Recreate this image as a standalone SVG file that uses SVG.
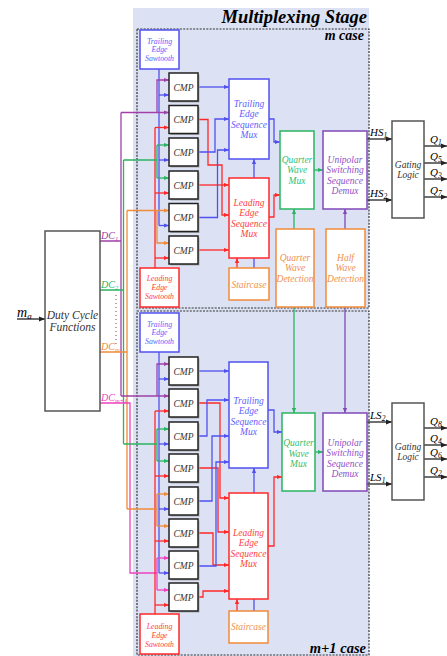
<svg xmlns="http://www.w3.org/2000/svg" width="447" height="656" viewBox="0 0 447 656">
<style>
.t{font-family:"Liberation Serif",serif;font-style:italic;text-anchor:middle}
.s{font-size:7.8px}
.m{font-size:9.5px}
.bb{fill:#fff;stroke:#5050f0;stroke-width:1.5}
.rb{fill:#fff;stroke:#ff2828;stroke-width:1.5}
.ob{fill:#fff;stroke:#f08a3a;stroke-width:1.5}
.gb{fill:#fff;stroke:#28b460;stroke-width:1.5}
.pb{fill:#fff;stroke:#8048b8;stroke-width:1.5}
.kb{fill:#fff;stroke:#555;stroke-width:1.5}
.cb{fill:#fff;stroke:#222;stroke-width:1.5}
.sh{fill:#aaa}
.bt{fill:#6060ff}.rt{fill:#ff4040}.ot{fill:#f09050}.gt{fill:#30c070}.pt{fill:#9050c8}.kt{fill:#333}
.w{fill:none;stroke-width:1.3}
.B{stroke:#5050f0}.R{stroke:#ff2828}.O{stroke:#f08a3a}.G{stroke:#28b460}.P{stroke:#8048b8}.D{stroke:#a040a8}.M{stroke:#f040c0}.K{stroke:#222}
.ab{marker-end:url(#aB)}.ar{marker-end:url(#aR)}.ag{marker-end:url(#aG)}.ap{marker-end:url(#aP)}.ad{marker-end:url(#aD)}.am{marker-end:url(#aM)}.ao{marker-end:url(#aO)}.ak{marker-end:url(#aK)}
.dash{fill:none;stroke:#333;stroke-width:1.2;stroke-dasharray:2 1.3}
.lab{font-family:"Liberation Serif",serif;font-style:italic}
</style>
<defs>
<marker id="aB" viewBox="0 0 6 6" refX="6" refY="3" markerWidth="5" markerHeight="5" markerUnits="userSpaceOnUse" orient="auto"><path d="M0,0.5L6,3L0,5.5z" fill="#5050f0"/></marker>
<marker id="aR" viewBox="0 0 6 6" refX="6" refY="3" markerWidth="5" markerHeight="5" markerUnits="userSpaceOnUse" orient="auto"><path d="M0,0.5L6,3L0,5.5z" fill="#ff2828"/></marker>
<marker id="aG" viewBox="0 0 6 6" refX="6" refY="3" markerWidth="5" markerHeight="5" markerUnits="userSpaceOnUse" orient="auto"><path d="M0,0.5L6,3L0,5.5z" fill="#28b460"/></marker>
<marker id="aP" viewBox="0 0 6 6" refX="6" refY="3" markerWidth="5" markerHeight="5" markerUnits="userSpaceOnUse" orient="auto"><path d="M0,0.5L6,3L0,5.5z" fill="#8048b8"/></marker>
<marker id="aD" viewBox="0 0 6 6" refX="6" refY="3" markerWidth="5" markerHeight="5" markerUnits="userSpaceOnUse" orient="auto"><path d="M0,0.5L6,3L0,5.5z" fill="#a040a8"/></marker>
<marker id="aM" viewBox="0 0 6 6" refX="6" refY="3" markerWidth="5" markerHeight="5" markerUnits="userSpaceOnUse" orient="auto"><path d="M0,0.5L6,3L0,5.5z" fill="#f040c0"/></marker>
<marker id="aO" viewBox="0 0 6 6" refX="6" refY="3" markerWidth="5" markerHeight="5" markerUnits="userSpaceOnUse" orient="auto"><path d="M0,0.5L6,3L0,5.5z" fill="#f08a3a"/></marker>
<marker id="aK" viewBox="0 0 6 6" refX="6" refY="3" markerWidth="6" markerHeight="6" markerUnits="userSpaceOnUse" orient="auto"><path d="M0,0.5L6,3L0,5.5z" fill="#222"/></marker>
</defs>

<g id="stage">
<rect x="133" y="8" width="236" height="648" fill="#dce2f4"/>
<rect class="dash" x="137" y="29" width="232" height="279"/>
<rect class="dash" x="137" y="311" width="232" height="344"/>
<text x="367" y="23" font-family="Liberation Serif,serif" font-style="italic" font-weight="bold" font-size="18.5" text-anchor="end">Multiplexing Stage</text>
<text x="364" y="40" font-family="Liberation Serif,serif" font-style="italic" font-weight="bold" font-size="14" text-anchor="end">m case</text>
<text x="366" y="653" font-family="Liberation Serif,serif" font-style="italic" font-weight="bold" font-size="14.5" text-anchor="end">m+1 case</text>
</g>

<g id="connectors">
<path class="w K ak" d="M17,319H45"/>
<path class="w D" d="M100,241H121M121,112.5V396"/>
<path class="w G" d="M100,290H123.5M123.5,160V444"/>
<path class="w O" d="M100,352H127M127,210.5V509"/>
<path class="w M" d="M100,403H130V573H157"/>
<path d="M116,295V347" fill="none" stroke="#555" stroke-width="1" stroke-dasharray="1 3"/>
<path class="w B" d="M159,69V225.5"/>
<path class="w B ab" d="M159,95H169"/><path class="w B ab" d="M159,160H169"/><path class="w B ab" d="M159,225.5H169"/>
<path class="w R" d="M155,268V127.5"/>
<path class="w R ar" d="M155,127.5H169"/><path class="w R ar" d="M155,193H169"/><path class="w R ar" d="M155,258H169"/>
<path class="w D ad" d="M121,112.5H169"/><path class="w D ad" d="M157,112.5V80H169"/>
<path class="w G" d="M123.5,160H157M157,145V178"/>
<path class="w G ag" d="M157,145H169"/><path class="w G ag" d="M157,178H169"/>
<path class="w O ao" d="M127,210.5H169"/><path class="w O ao" d="M157,210.5V243H169"/>
<path class="w B ab" d="M198,87H229"/>
<path class="w R ar" d="M198,119.5H208V165H222V215H229"/>
<path class="w B ab" d="M198,152H215V119H229"/>
<path class="w R ar" d="M198,185H229"/>
<path class="w B ab" d="M198,217.5H217.5V150H229"/>
<path class="w R ar" d="M198,250H229"/>
<path class="w B ab" d="M269,119H274V142H280"/>
<path class="w R ar" d="M269,217H274V195H280"/>
<path class="w R ar" d="M237,268V258"/>
<path class="w B ab" d="M254,268V159"/>
<path class="w G ag" d="M314,170H323"/>
<path class="w G ag" d="M294,229V209"/>
<path class="w P ap" d="M345,229V209"/>
<path class="w K ak" d="M367,139H392"/>
<path class="w K ak" d="M367,200H392"/>
<path class="w K ak" d="M424,146H447"/><path class="w K ak" d="M424,163H447"/><path class="w K ak" d="M424,179H447"/><path class="w K ak" d="M424,197H447"/>
<path class="w B" d="M159,352V573"/>
<path class="w B ab" d="M159,379H169"/><path class="w B ab" d="M159,444H169"/><path class="w B ab" d="M159,509H169"/><path class="w B ab" d="M159,573H169"/>
<path class="w R" d="M155,614V411"/>
<path class="w R ar" d="M155,411H169"/><path class="w R ar" d="M155,476H169"/><path class="w R ar" d="M155,541H169"/><path class="w R ar" d="M155,605H169"/>
<path class="w D ad" d="M121,396H169"/><path class="w D ad" d="M157,396V364H169"/>
<path class="w G" d="M123.5,444H157M157,429V461"/>
<path class="w G ag" d="M157,429H169"/><path class="w G ag" d="M157,461H169"/>
<path class="w O" d="M127,509H157M157,494V526"/>
<path class="w O ao" d="M157,494H169"/><path class="w O ao" d="M157,526H169"/>
<path class="w M" d="M157,558V590"/>
<path class="w M am" d="M157,558H169"/><path class="w M am" d="M157,590H169"/>
<path class="w B ab" d="M198,371H229"/>
<path class="w R ar" d="M198,403H220V498H229"/>
<path class="w B ab" d="M198,436H207V400H229"/>
<path class="w R ar" d="M198,468H218V532H229"/>
<path class="w B ab" d="M198,501H212V436H229"/>
<path class="w R ar" d="M198,533H213V565H229"/>
<path class="w B ab" d="M198,566H216V462H229"/>
<path class="w R ar" d="M198,597H203V591H229"/>
<path class="w B ab" d="M268,410H274V432H282"/>
<path class="w R ar" d="M268,546H274V477H282"/>
<path class="w R ar" d="M237,611V599"/>
<path class="w B ab" d="M254,611V468"/>
<path class="w G ag" d="M315,452H323"/>
<path class="w G ag" d="M294,307V413"/>
<path class="w P ap" d="M345,307V413"/>
<path class="w K ak" d="M367,422H392"/>
<path class="w K ak" d="M367,484H392"/>
<path class="w K ak" d="M424,428H447"/><path class="w K ak" d="M424,445H447"/><path class="w K ak" d="M424,459H447"/><path class="w K ak" d="M424,477H447"/>
</g>

<g id="labels" class="lab">
<text x="17" y="317" font-size="14">m<tspan font-size="9" dy="2">a</tspan></text>
<text x="101" y="239" font-size="10" fill="#a040a8">DC<tspan font-size="6.5" dy="2">1</tspan></text>
<text x="101" y="288" font-size="10" fill="#28b460">DC<tspan font-size="6.5" dy="2">2</tspan></text>
<text x="101" y="350" font-size="10" fill="#f08a3a">DC<tspan font-size="6.5" dy="2">m</tspan></text>
<text x="101" y="401" font-size="10" fill="#f040c0">DC<tspan font-size="6.5" dy="2">m+1</tspan></text>
<text x="370" y="136" font-size="11">HS<tspan font-size="7.5" dy="2">1</tspan></text>
<text x="370" y="197" font-size="11">HS<tspan font-size="7.5" dy="2">2</tspan></text>
<text x="370" y="419" font-size="11">LS<tspan font-size="7.5" dy="2">2</tspan></text>
<text x="370" y="481" font-size="11">LS<tspan font-size="7.5" dy="2">1</tspan></text>
<text x="430" y="143" font-size="11">Q<tspan font-size="7.5" dy="2">1</tspan></text>
<text x="430" y="160" font-size="11">Q<tspan font-size="7.5" dy="2">5</tspan></text>
<text x="430" y="176" font-size="11">Q<tspan font-size="7.5" dy="2">3</tspan></text>
<text x="430" y="194" font-size="11">Q<tspan font-size="7.5" dy="2">7</tspan></text>
<text x="430" y="425" font-size="11">Q<tspan font-size="7.5" dy="2">8</tspan></text>
<text x="430" y="442" font-size="11">Q<tspan font-size="7.5" dy="2">4</tspan></text>
<text x="430" y="456" font-size="11">Q<tspan font-size="7.5" dy="2">6</tspan></text>
<text x="430" y="474" font-size="11">Q<tspan font-size="7.5" dy="2">2</tspan></text>
</g>

<g id="duty-cycle"><rect class="kb" x="45" y="231" width="55" height="180"/>
<text class="t kt" x="72.5" y="319" font-size="11.5">Duty Cycle</text><text class="t kt" x="72.5" y="331" font-size="11.5">Functions</text></g>

<g id="tes-m"><rect class="bb" x="140" y="30" width="39" height="39"/>
<text class="t s bt" x="159.5" y="43.5">Trailing</text><text class="t s bt" x="159.5" y="52">Edge</text><text class="t s bt" x="159.5" y="60.5">Sawtooth</text></g>
<g id="les-m"><rect class="rb" x="140" y="268" width="39" height="39"/>
<text class="t s rt" x="159.5" y="280.5">Leading</text><text class="t s rt" x="159.5" y="289.5">Edge</text><text class="t s rt" x="159.5" y="298.5">Sawtooth</text></g>
<g id="cmp-m1"><rect class="sh" x="170.5" y="74.5" width="29" height="28"/><rect class="cb" x="169" y="73" width="29" height="28"/><text class="t m kt" x="183.5" y="90.5">CMP</text></g>
<g id="cmp-m2"><rect class="sh" x="170.5" y="107" width="29" height="28"/><rect class="cb" x="169" y="105.5" width="29" height="28"/><text class="t m kt" x="183.5" y="123">CMP</text></g>
<g id="cmp-m3"><rect class="sh" x="170.5" y="139.5" width="29" height="28"/><rect class="cb" x="169" y="138" width="29" height="28"/><text class="t m kt" x="183.5" y="155.5">CMP</text></g>
<g id="cmp-m4"><rect class="sh" x="170.5" y="172.5" width="29" height="28"/><rect class="cb" x="169" y="171" width="29" height="28"/><text class="t m kt" x="183.5" y="188.5">CMP</text></g>
<g id="cmp-m5"><rect class="sh" x="170.5" y="205" width="29" height="28"/><rect class="cb" x="169" y="203.5" width="29" height="28"/><text class="t m kt" x="183.5" y="221">CMP</text></g>
<g id="cmp-m6"><rect class="sh" x="170.5" y="237.5" width="29" height="28"/><rect class="cb" x="169" y="236" width="29" height="28"/><text class="t m kt" x="183.5" y="253.5">CMP</text></g>
<g id="tesm-m"><rect class="bb" x="229" y="79" width="40" height="80"/>
<text class="t m bt" x="249" y="106.5">Trailing</text><text class="t m bt" x="249" y="117">Edge</text><text class="t m bt" x="249" y="127.5">Sequence</text><text class="t m bt" x="249" y="138">Mux</text></g>
<g id="lesm-m"><rect class="rb" x="229" y="178" width="40" height="80"/>
<text class="t m rt" x="249" y="205.5">Leading</text><text class="t m rt" x="249" y="216">Edge</text><text class="t m rt" x="249" y="226.5">Sequence</text><text class="t m rt" x="249" y="237">Mux</text></g>
<g id="stair-m"><rect class="ob" x="229" y="268" width="40" height="32"/><text class="t m ot" x="249" y="287.5">Staircase</text></g>
<g id="qwm-m"><rect class="gb" x="280" y="131" width="34" height="78"/>
<text class="t m gt" x="297" y="162.5">Quarter</text><text class="t m gt" x="297" y="173">Wave</text><text class="t m gt" x="297" y="183.5">Mux</text></g>
<g id="demux-m"><rect class="pb" x="323" y="131" width="44" height="78"/>
<text class="t m pt" x="345" y="162.5">Unipolar</text><text class="t m pt" x="345" y="173">Switching</text><text class="t m pt" x="345" y="183.5">Sequence</text><text class="t m pt" x="345" y="194">Demux</text></g>
<g id="qwd"><rect class="ob" x="276" y="229" width="38" height="78"/>
<text class="t m ot" x="295" y="260.5">Quarter</text><text class="t m ot" x="295" y="271">Wave</text><text class="t m ot" x="295" y="281.5">Detection</text></g>
<g id="hwd"><rect class="ob" x="326" y="229" width="39" height="78"/>
<text class="t m ot" x="345.5" y="260.5">Half</text><text class="t m ot" x="345.5" y="271">Wave</text><text class="t m ot" x="345.5" y="281.5">Detection</text></g>
<g id="gating-m"><rect class="kb" x="392" y="121" width="32" height="97"/>
<text class="t m kt" x="408" y="168">Gating</text><text class="t m kt" x="408" y="178">Logic</text></g>

<g id="tes-m1"><rect class="bb" x="140" y="313" width="39" height="39"/>
<text class="t s bt" x="159.5" y="326.5">Trailing</text><text class="t s bt" x="159.5" y="335">Edge</text><text class="t s bt" x="159.5" y="343.5">Sawtooth</text></g>
<g id="les-m1"><rect class="rb" x="140" y="614" width="39" height="40"/>
<text class="t s rt" x="159.5" y="628.5">Leading</text><text class="t s rt" x="159.5" y="637.5">Edge</text><text class="t s rt" x="159.5" y="646.5">Sawtooth</text></g>
<g id="cmp-n1"><rect class="sh" x="170.5" y="358.5" width="29" height="28"/><rect class="cb" x="169" y="357" width="29" height="28"/><text class="t m kt" x="183.5" y="374.5">CMP</text></g>
<g id="cmp-n2"><rect class="sh" x="170.5" y="390.5" width="29" height="28"/><rect class="cb" x="169" y="389" width="29" height="28"/><text class="t m kt" x="183.5" y="406.5">CMP</text></g>
<g id="cmp-n3"><rect class="sh" x="170.5" y="423.5" width="29" height="28"/><rect class="cb" x="169" y="422" width="29" height="28"/><text class="t m kt" x="183.5" y="439.5">CMP</text></g>
<g id="cmp-n4"><rect class="sh" x="170.5" y="455.5" width="29" height="28"/><rect class="cb" x="169" y="454" width="29" height="28"/><text class="t m kt" x="183.5" y="471.5">CMP</text></g>
<g id="cmp-n5"><rect class="sh" x="170.5" y="488.5" width="29" height="28"/><rect class="cb" x="169" y="487" width="29" height="28"/><text class="t m kt" x="183.5" y="504.5">CMP</text></g>
<g id="cmp-n6"><rect class="sh" x="170.5" y="520.5" width="29" height="28"/><rect class="cb" x="169" y="519" width="29" height="28"/><text class="t m kt" x="183.5" y="536.5">CMP</text></g>
<g id="cmp-n7"><rect class="sh" x="170.5" y="552.5" width="29" height="28"/><rect class="cb" x="169" y="551" width="29" height="28"/><text class="t m kt" x="183.5" y="568.5">CMP</text></g>
<g id="cmp-n8"><rect class="sh" x="170.5" y="584.5" width="29" height="28"/><rect class="cb" x="169" y="583" width="29" height="28"/><text class="t m kt" x="183.5" y="600.5">CMP</text></g>
<g id="tesm-m1"><rect class="bb" x="229" y="362" width="39" height="106"/>
<text class="t m bt" x="248.5" y="403.5">Trailing</text><text class="t m bt" x="248.5" y="414">Edge</text><text class="t m bt" x="248.5" y="424.5">Sequence</text><text class="t m bt" x="248.5" y="435">Mux</text></g>
<g id="lesm-m1"><rect class="rb" x="229" y="493" width="39" height="106"/>
<text class="t m rt" x="248.5" y="535.5">Leading</text><text class="t m rt" x="248.5" y="546">Edge</text><text class="t m rt" x="248.5" y="556.5">Sequence</text><text class="t m rt" x="248.5" y="567">Mux</text></g>
<g id="stair-m1"><rect class="ob" x="229" y="611" width="39" height="32"/><text class="t m ot" x="248.5" y="629.5">Staircase</text></g>
<g id="qwm-m1"><rect class="gb" x="282" y="413" width="33" height="78"/>
<text class="t m gt" x="298.5" y="446">Quarter</text><text class="t m gt" x="298.5" y="456.5">Wave</text><text class="t m gt" x="298.5" y="467">Mux</text></g>
<g id="demux-m1"><rect class="pb" x="323" y="413" width="44" height="78"/>
<text class="t m pt" x="345" y="445.5">Unipolar</text><text class="t m pt" x="345" y="456">Switching</text><text class="t m pt" x="345" y="466.5">Sequence</text><text class="t m pt" x="345" y="477">Demux</text></g>
<g id="gating-m1"><rect class="kb" x="392" y="403" width="32" height="97"/>
<text class="t m kt" x="408" y="450">Gating</text><text class="t m kt" x="408" y="460">Logic</text></g>
</svg>
